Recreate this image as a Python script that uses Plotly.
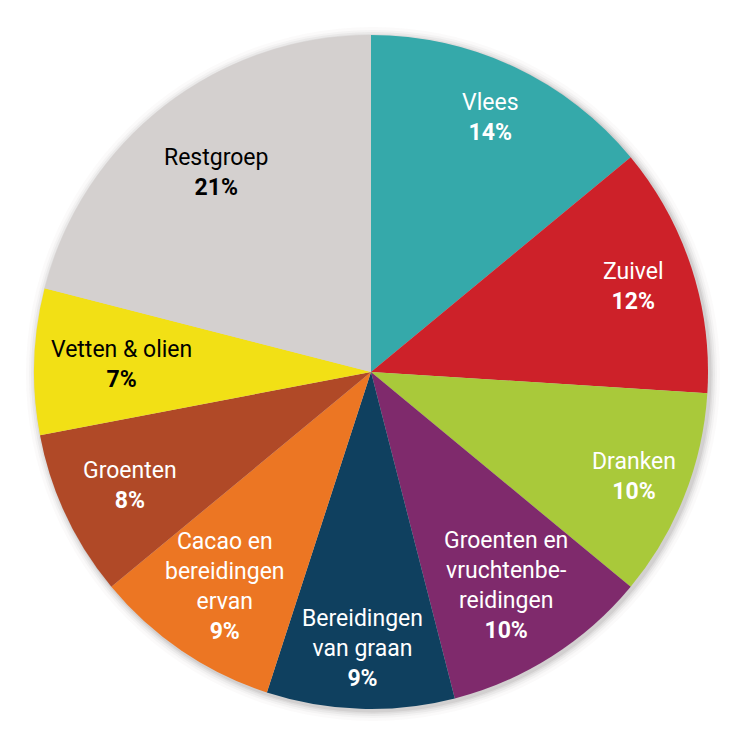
import math
import plotly.graph_objects as go

categories = ["Vlees", "Zuivel", "Dranken", "Groenten en<br>vruchtenbe-<br>reidingen",
              "Bereidingen<br>van graan", "Cacao en<br>bereidingen<br>ervan", "Groenten",
              "Vetten & olien", "Restgroep"]
values = [14, 12, 10, 10, 9, 9, 8, 7, 21]
colors = ["#35A9AA", "#CD2129", "#A9C93A", "#7F2A6C", "#0F405F", "#EC7623",
          "#B04927", "#F2E015", "#D4D0CF"]
text_colors = ["white", "white", "white", "white", "white", "white", "white", "black", "black"]
label_radius = [0.835, 0.82, 0.84, 0.75, 0.82, 0.77, 0.79, 0.74, 0.75]

W = H = 741
cx, cy, R = 371, 372, 337
FONT = "Roboto, sans-serif"

fig = go.Figure()
fig.add_trace(go.Pie(
    labels=categories, values=values, sort=False, direction="clockwise",
    rotation=0, marker=dict(colors=colors, line=dict(width=0)),
    textinfo="none", hoverinfo="label+percent", showlegend=False,
    domain=dict(x=[(cx - R) / W, (cx + R) / W], y=[1 - (cy + R) / H, 1 - (cy - R) / H]),
))

# soft shadow around the pie
shapes = []
for k, op in [(10, 0.03), (7, 0.05), (5, 0.07), (3, 0.09), (1.5, 0.12)]:
    r = R + k
    ox, oy = 2, 2
    shapes.append(dict(type="circle", xref="paper", yref="paper", layer="below",
                       x0=(cx + ox - r) / W, x1=(cx + ox + r) / W,
                       y0=1 - (cy + oy + r) / H, y1=1 - (cy + oy - r) / H,
                       fillcolor=f"rgba(120,110,110,{op})", line=dict(width=0)))

total = sum(values)
annotations = []
cum = 0
for cat, v, tc, lr in zip(categories, values, text_colors, label_radius):
    mid = (cum + v / 2) / total * 2 * math.pi
    cum += v
    rr = lr * R
    x = cx + rr * math.sin(mid)
    y = cy - rr * math.cos(mid)
    annotations.append(dict(
        x=x / W, y=1 - y / H, xref="paper", yref="paper", showarrow=False,
        text=f"{cat}<br><b>{round(v / total * 100)}%</b>",
        font=dict(family=FONT, size=23, color=tc), align="center",
        xanchor="center", yanchor="middle"))

fig.update_layout(width=W, height=H, margin=dict(l=0, r=0, t=0, b=0),
                  paper_bgcolor="white", plot_bgcolor="white",
                  shapes=shapes, annotations=annotations)
fig.write_html("out.html")
